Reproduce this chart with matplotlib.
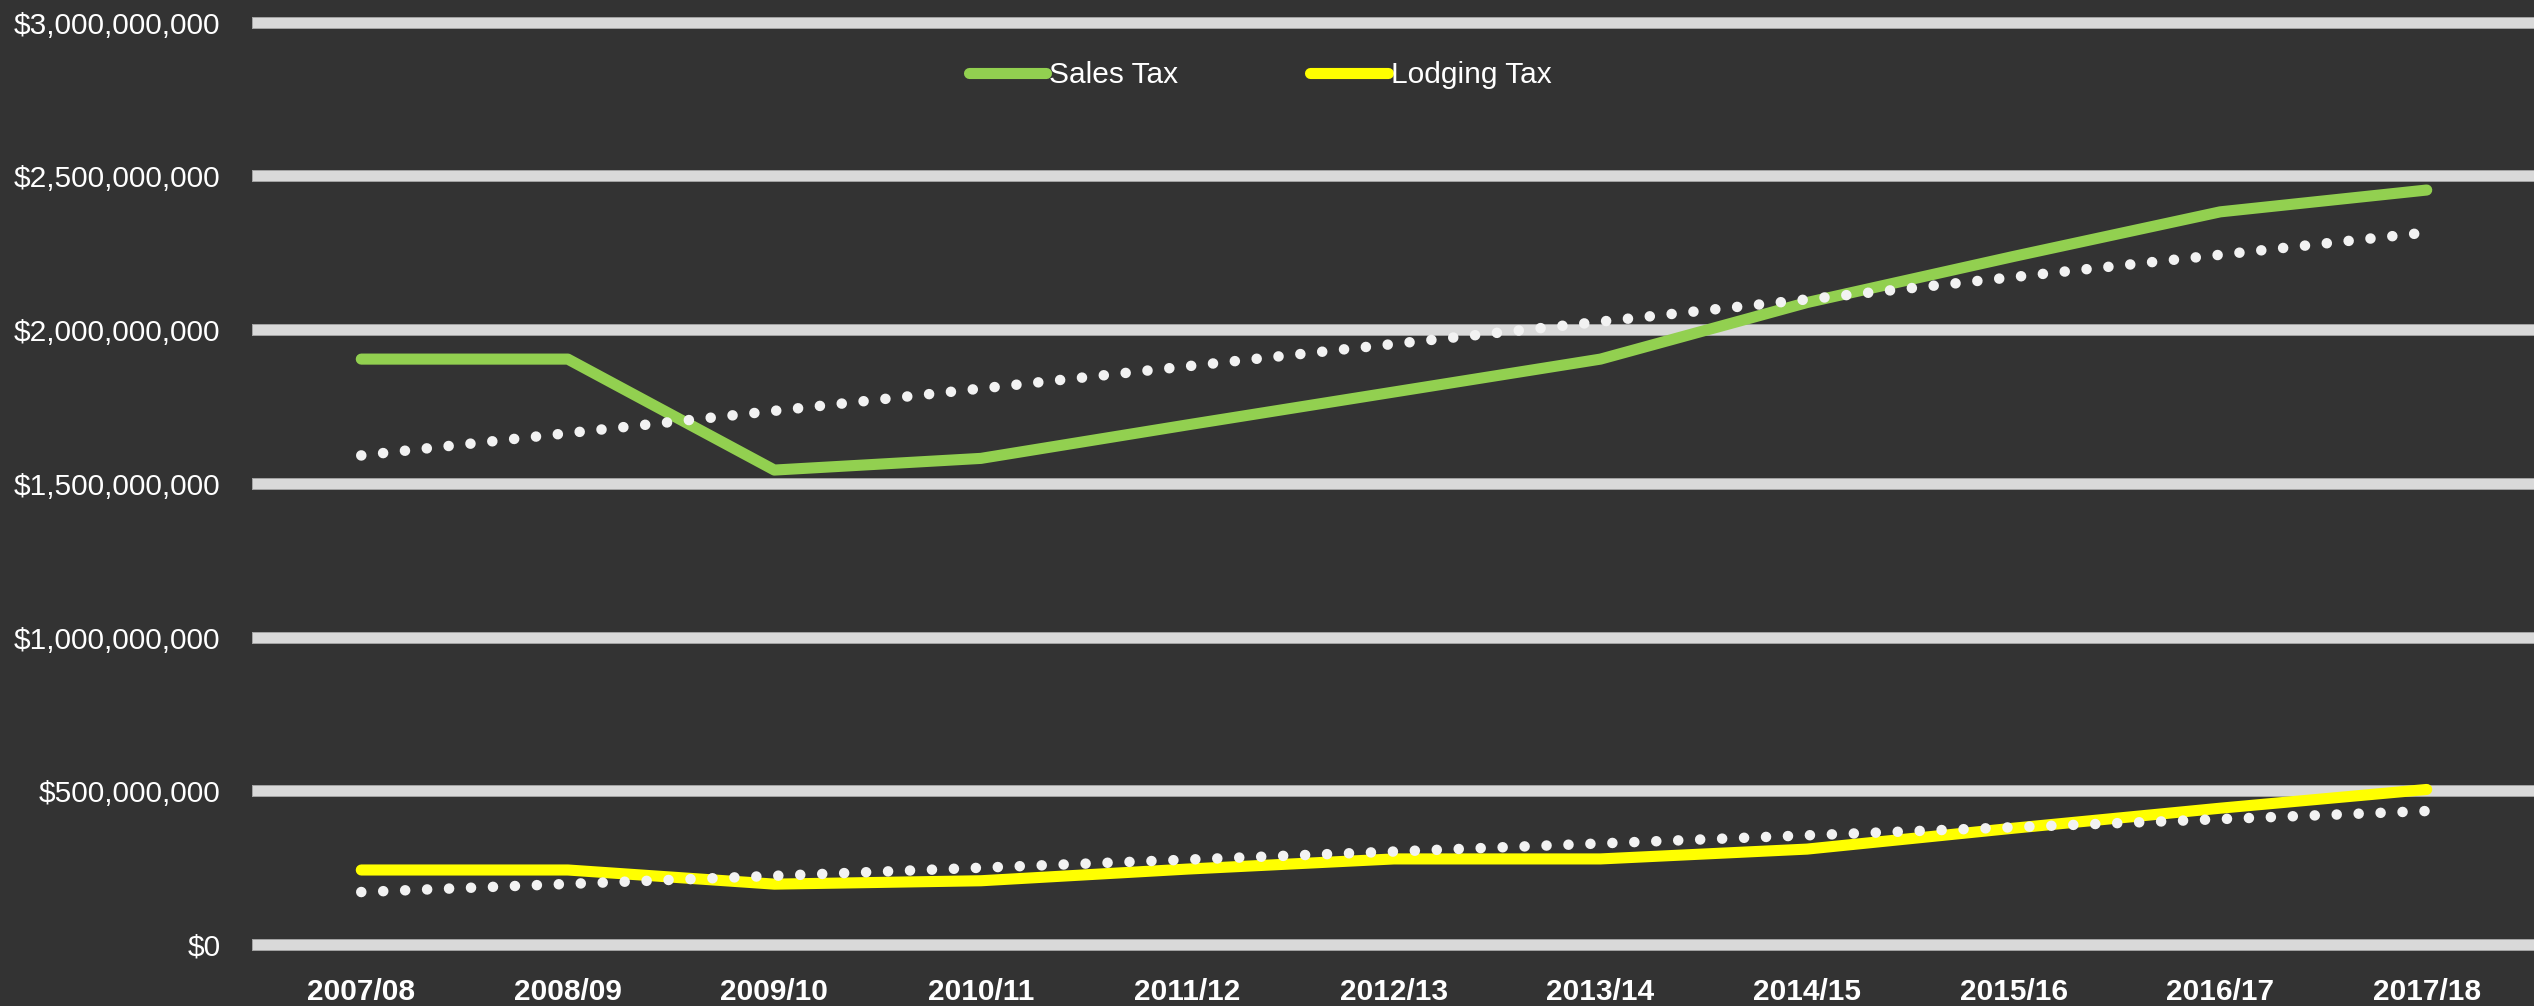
import numpy as np
import matplotlib
matplotlib.use('Agg')
import matplotlib.pyplot as plt
from matplotlib.ticker import FuncFormatter

# fiscal years and annual tax collections ($)
years = ['2007/08', '2008/09', '2009/10', '2010/11', '2011/12', '2012/13',
         '2013/14', '2014/15', '2015/16', '2016/17', '2017/18']
sales_tax = np.array([1.906, 1.906, 1.545, 1.583, 1.692, 1.799,
                      1.906, 2.090, 2.240, 2.385, 2.456]) * 1e9
lodging_tax = np.array([0.244, 0.244, 0.198, 0.209, 0.247, 0.280,
                        0.280, 0.312, 0.380, 0.445, 0.506]) * 1e9
y_ticks = np.arange(0, 3.0e9 + 1, 0.5e9)

bg = '#333333'
grid_c = '#d9d9d9'
green = '#92d050'
yellow = '#ffff00'
dot_c = '#f2f2f2'
fnt = ['Liberation Sans', 'DejaVu Sans']
fs = 21.5

fig = plt.figure(figsize=(25.34, 10.06), dpi=100, facecolor=bg)
ax = fig.add_axes([258/2534, 1-945/1006, (2530-258)/2534, (945-22.8)/1006])
ax.set_facecolor(bg)

x = np.arange(len(years))

# horizontal gridlines
for yt in y_ticks:
    ax.axhline(yt, color='#a6a6a6', linewidth=8.6, zorder=1, clip_on=False)
    ax.axhline(yt, color=grid_c, linewidth=7.2, zorder=1, clip_on=False)

l1, = ax.plot(x, sales_tax, color=green, linewidth=8, solid_capstyle='round',
              solid_joinstyle='round', zorder=3, label='Sales Tax')
l2, = ax.plot(x, lodging_tax, color=yellow, linewidth=8, solid_capstyle='round',
              solid_joinstyle='round', zorder=3, label='Lodging Tax')

# linear trendlines
for s in [sales_tax, lodging_tax]:
    c = np.polyfit(x, s, 1)
    ax.plot(x, np.polyval(c, x), color=dot_c, linewidth=7.6,
            linestyle=(0, (0.001, 2.08)), dash_capstyle='round', zorder=4)

ax.set_xlim(-0.5, len(years) - 0.5)
ax.set_ylim(0, 3.0e9)
ax.set_xticks(x)
ax.set_xticklabels(years, family=fnt, fontsize=fs, fontweight='bold', color='white')
ax.set_yticks(y_ticks)
ax.yaxis.set_major_formatter(FuncFormatter(lambda v, p: '${:,.0f}'.format(v)))
for t in ax.get_yticklabels():
    t.set_family(fnt)
    t.set_fontsize(fs)
    t.set_color('white')
ax.tick_params(axis='x', length=0, pad=24)
ax.tick_params(axis='y', length=0, pad=27)
for sp in ax.spines.values():
    sp.set_visible(False)

fig.legend(handles=[l1, l2], loc='center', bbox_to_anchor=(1260/2534, 1-75/1006),
           ncol=2, frameon=False, handlelength=2.6, handletextpad=0.1,
           columnspacing=4.4, prop={'family': fnt, 'size': fs},
           labelcolor='white')

fig.savefig('out.png', dpi=100, facecolor=bg)
